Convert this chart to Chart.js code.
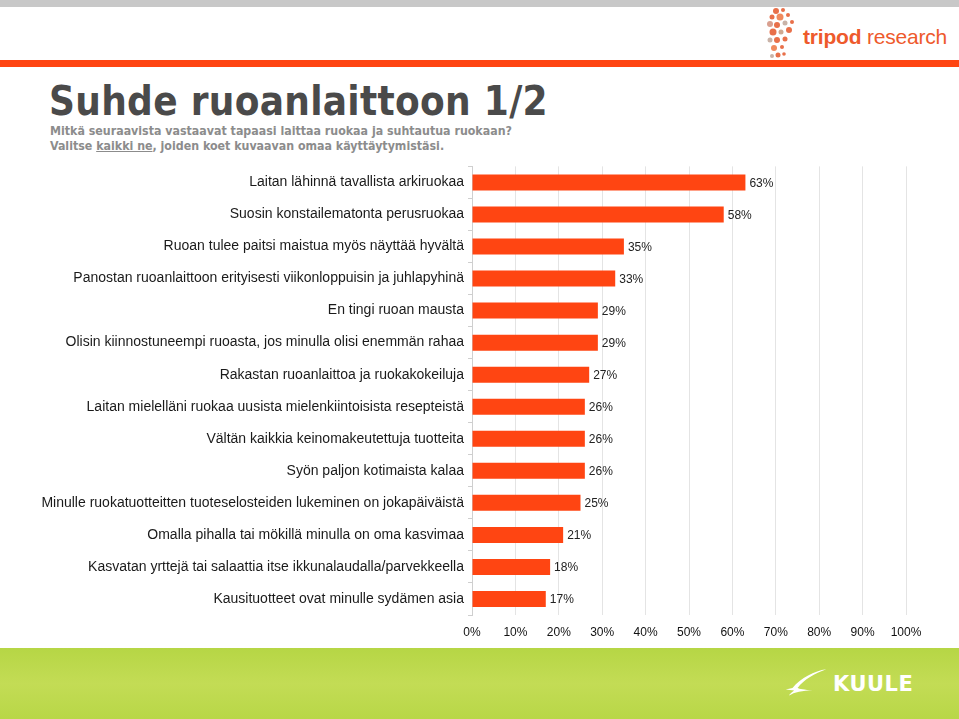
<!DOCTYPE html>
<html>
<head>
<meta charset="utf-8">
<script src="https://cdn.jsdelivr.net/npm/chart.js@4.4.1/dist/chart.umd.min.js"></script>
<style>
  html, body { margin: 0; padding: 0; background: #fff; }
  body { width: 959px; height: 719px; position: relative; overflow: hidden; font-family: "Liberation Sans", Arial, sans-serif; }
  .topband { position: absolute; left: 0; top: 0; width: 959px; height: 7px; background: #c8c8c8; }
  .redline { position: absolute; left: 0; top: 60px; width: 959px; height: 7px; background: #ff4512; }
  .logo { position: absolute; left: 803px; top: 25px; font-size: 21px; color: #ee5a2c; font-family: "Liberation Sans", Arial, sans-serif; letter-spacing: -0.2px; }
  .logo b { font-weight: bold; }
  .dots { position: absolute; left: 764px; top: 6px; }
  h1 { position: absolute; left: 49px; top: 78px; margin: 0; font-family: "DejaVu Sans Condensed", "DejaVu Sans", sans-serif; font-weight: bold; font-size: 40px; color: #4a4a4a; letter-spacing: 0.3px; }
  .sub { position: absolute; left: 50px; top: 124px; font-family: "DejaVu Sans Condensed", "DejaVu Sans", sans-serif; font-weight: bold; font-size: 12.3px; line-height: 15px; color: #8c8c8c; }
  .sub u { text-decoration: underline; }
  .footer { position: absolute; left: 0; top: 648px; width: 959px; height: 71px; background: linear-gradient(#b6d645, #c3dc55 50%, #b8d747); }
  .kuule { position: absolute; left: 833px; top: 672px; font-family: "DejaVu Sans", sans-serif; font-weight: bold; font-size: 21px; color: #fff; letter-spacing: 0.5px; }
  .bird { position: absolute; left: 784px; top: 666px; }
  #wrap { position: absolute; left: 0; top: 154px; width: 959px; height: 494px; }
</style>
</head>
<body>
<div class="topband"></div>
<svg class="dots" width="40" height="56" viewBox="0 0 40 56">
  <g fill="#e8704a">
    <circle cx="12" cy="5" r="3"/><circle cx="19" cy="4" r="2"/><circle cx="8" cy="11" r="2.5"/>
    <circle cx="16" cy="11" r="3.5" fill="#f08a5e"/><circle cx="24" cy="9" r="2"/><circle cx="6" cy="18" r="3" fill="#d9a090"/>
    <circle cx="13" cy="19" r="3"/><circle cx="21" cy="17" r="2.5" fill="#c9b3a8"/><circle cx="28" cy="16" r="2"/>
    <circle cx="9" cy="26" r="3.5"/><circle cx="17" cy="26" r="2.5" fill="#d0a890"/><circle cx="25" cy="24" r="3"/>
    <circle cx="6" cy="34" r="2.5" fill="#c9b3a8"/><circle cx="13" cy="34" r="3"/><circle cx="21" cy="33" r="2.5"/>
    <circle cx="10" cy="42" r="3" fill="#f08a5e"/><circle cx="18" cy="41" r="2"/><circle cx="14" cy="49" r="2.5"/>
    <circle cx="8" cy="50" r="2" fill="#c9b3a8"/><circle cx="20" cy="48" r="1.8"/>
  </g>
</svg>
<div class="logo"><b>tripod</b> research</div>
<div class="redline"></div>
<h1>Suhde ruoanlaittoon 1/2</h1>
<div class="sub">Mitkä seuraavista vastaavat tapaasi laittaa ruokaa ja suhtautua ruokaan?<br>Valitse <u>kaikki ne</u>, joiden koet kuvaavan omaa käyttäytymistäsi.</div>
<div id="wrap"><canvas id="chart"></canvas></div>
<div class="footer"></div>
<svg class="bird" width="44" height="32" viewBox="0 0 52 34">
  <path d="M50 2 C36 4 20 12 10 24 L2 26 L12 27 C8 30 6 32 6 33 C12 29 22 27 34 27 C24 26 18 25 16 24 C24 14 36 7 50 2 Z" fill="#fff"/>
</svg>
<div class="kuule">KUULE</div>
<script>
  const categories = [
    'Laitan lähinnä tavallista arkiruokaa',
    'Suosin konstailematonta perusruokaa',
    'Ruoan tulee paitsi maistua myös näyttää hyvältä',
    'Panostan ruoanlaittoon erityisesti viikonloppuisin ja juhlapyhinä',
    'En tingi ruoan mausta',
    'Olisin kiinnostuneempi ruoasta, jos minulla olisi enemmän rahaa',
    'Rakastan ruoanlaittoa ja ruokakokeiluja',
    'Laitan mielelläni ruokaa uusista mielenkiintoisista resepteistä',
    'Vältän kaikkia keinomakeutettuja tuotteita',
    'Syön paljon kotimaista kalaa',
    'Minulle ruokatuotteitten tuoteselosteiden lukeminen on jokapäiväistä',
    'Omalla pihalla tai mökillä minulla on oma kasvimaa',
    'Kasvatan yrttejä tai salaattia itse ikkunalaudalla/parvekkeella',
    'Kausituotteet ovat minulle sydämen asia'
  ];
  const values = [63, 58, 35, 33, 29, 29, 27, 26, 26, 26, 25, 21, 18, 17];
  const xTicks = [0, 10, 20, 30, 40, 50, 60, 70, 80, 90, 100];

  // value labels right of each bar
  const valueLabels = {
    id: 'valueLabels',
    afterDatasetsDraw(chart) {
      const ctx = chart.ctx;
      const meta = chart.getDatasetMeta(0);
      ctx.save();
      ctx.font = '12px "Liberation Sans", Arial, sans-serif';
      ctx.fillStyle = '#222';
      ctx.textBaseline = 'middle';
      meta.data.forEach((bar, i) => {
        ctx.fillText(values[i] + '%', bar.x + 4, bar.y + 1);
      });
      ctx.restore();
    }
  };

  new Chart(document.getElementById('chart'), {
    type: 'bar',
    data: {
      labels: categories,
      datasets: [{
        data: values,
        backgroundColor: '#ff4512',
        borderWidth: 0,
        barPercentage: 0.5,
        categoryPercentage: 1
      }]
    },
    options: {
      indexAxis: 'y',
      responsive: true,
      maintainAspectRatio: false,
      animation: false,
      layout: { padding: { top: 4, right: 53, bottom: 0, left: 0 } },
      plugins: { legend: { display: false }, tooltip: { enabled: false } },
      scales: {
        x: {
          min: 0,
          max: 100,
          afterBuildTicks: s => { s.ticks = xTicks.map(v => ({ value: v })); },
          ticks: {
            color: '#111',
            font: { size: 12, family: '"Liberation Sans", Arial, sans-serif' },
            padding: 10,
            callback: v => v + '%'
          },
          grid: { color: '#e4e4e4', drawTicks: false },
          border: { display: false },
          afterFit: s => { s.height = 33; }
        },
        y: {
          ticks: {
            color: '#1a1a1a',
            font: { size: 14, family: '"Liberation Sans", Arial, sans-serif' },
            padding: 4
          },
          grid: { offset: true, drawOnChartArea: false, tickLength: 4, color: '#cfcfcf' },
          border: { display: true, color: '#cfcfcf' },
          afterFit: s => { s.width = 472; }
        }
      }
    },
    plugins: [valueLabels]
  });
</script>
</body>
</html>
